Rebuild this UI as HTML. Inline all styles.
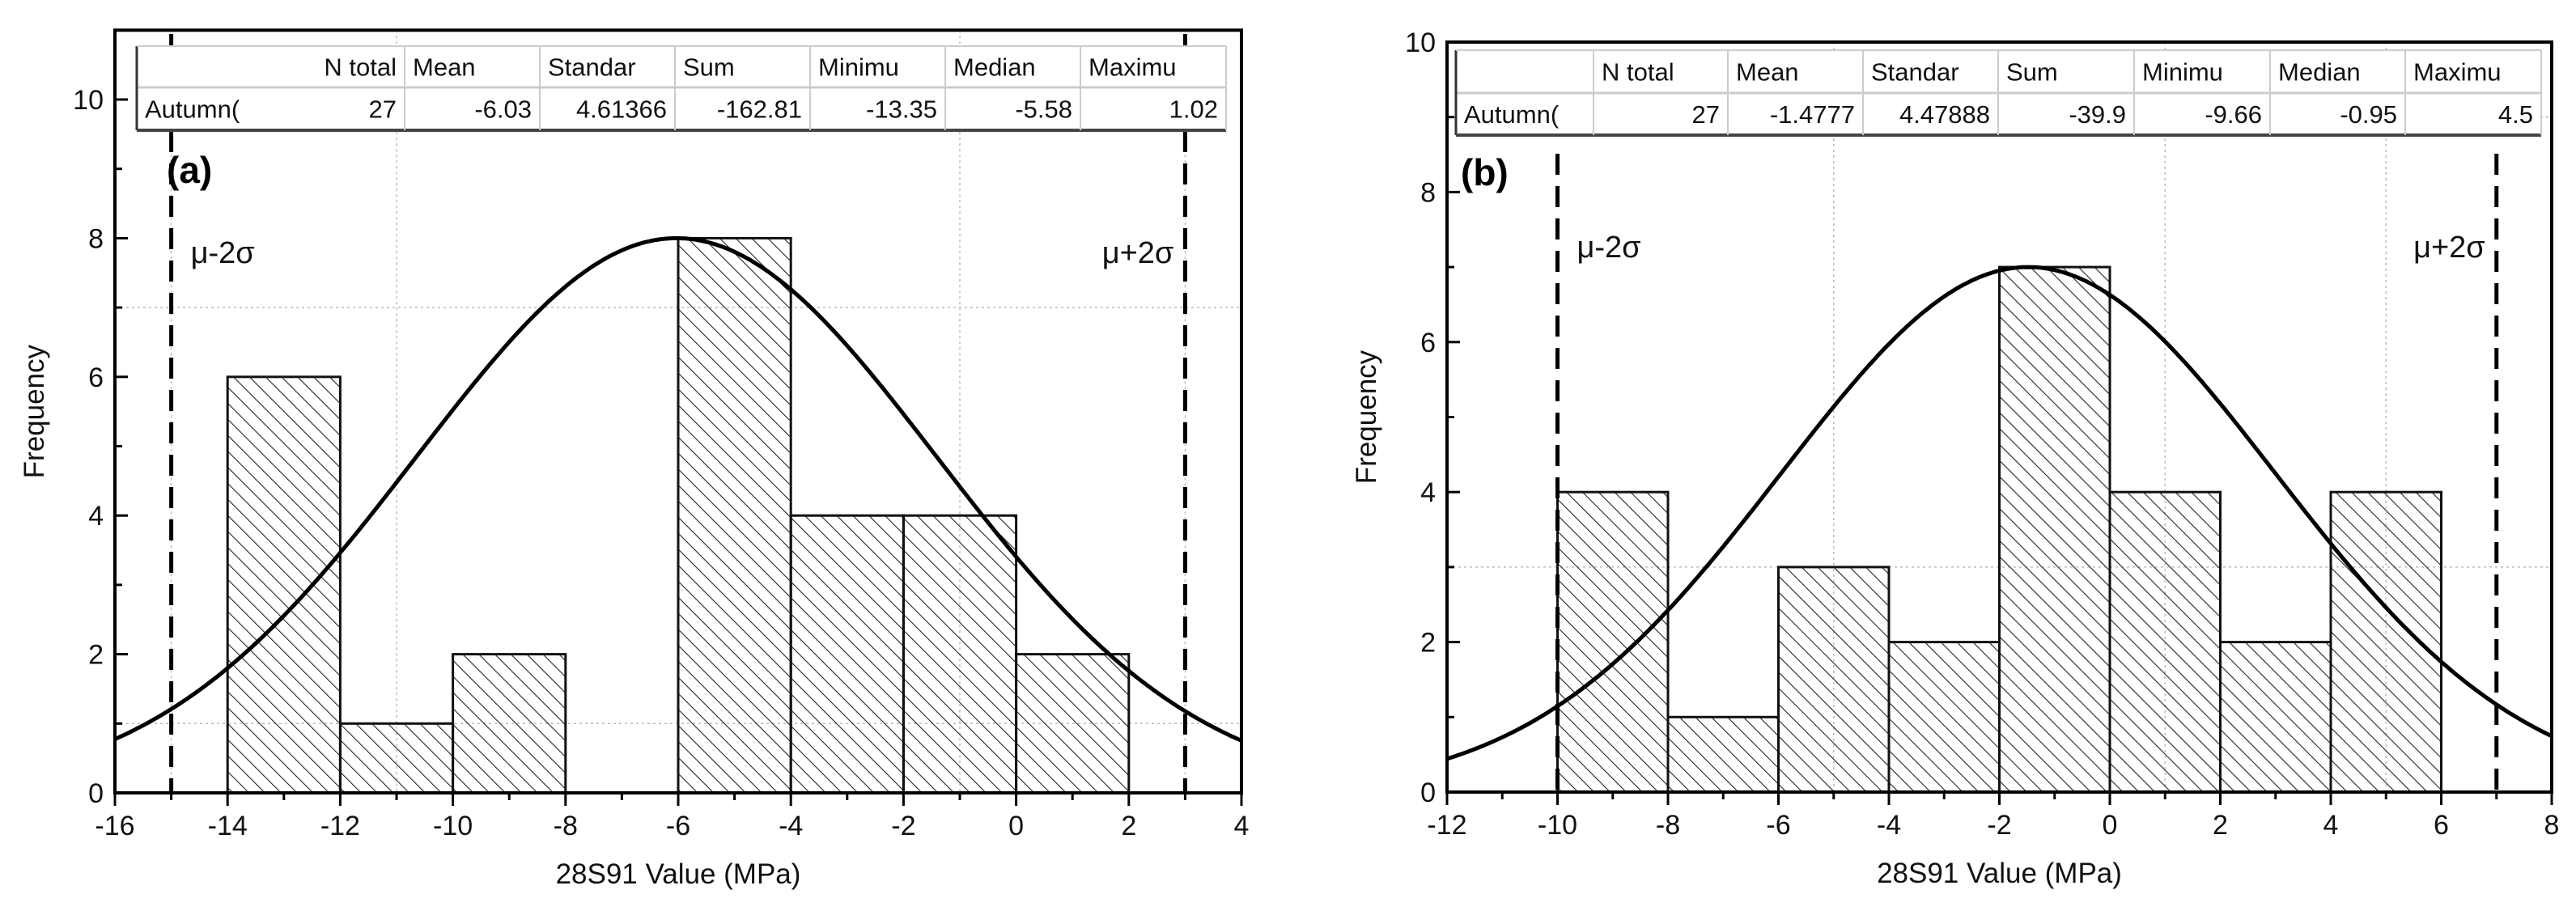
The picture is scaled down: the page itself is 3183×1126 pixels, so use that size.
<!DOCTYPE html>
<html><head><meta charset="utf-8">
<style>
html,body{margin:0;padding:0;background:#fff;}
svg{display:block;font-family:"Liberation Sans",Arial,sans-serif;}
</style></head>
<body>
<svg id="chart" width="3183" height="1126" viewBox="0 0 3183 1126" xmlns="http://www.w3.org/2000/svg">
<defs>
<pattern id="hatch" patternUnits="userSpaceOnUse" width="14" height="14" patternTransform="rotate(-45)">
<line x1="0" y1="0" x2="0" y2="14" stroke="#222" stroke-width="2.2"/>
</pattern>
</defs>
</svg>
<script>
// Panel (a) data
const binStartsA = [-14, -12, -10, -8, -6, -4, -2, 0];
const countsA = [6, 1, 2, 0, 8, 4, 4, 2];
const xTicksA = [-16, -14, -12, -10, -8, -6, -4, -2, 0, 2, 4];
const yTicksA = [0, 2, 4, 6, 8, 10];
const statsHeaderA = ["N total", "Mean", "Standar", "Sum", "Minimu", "Median", "Maximu"];
const statsValuesA = ["27", "-6.03", "4.61366", "-162.81", "-13.35", "-5.58", "1.02"];
const meanA = -6.03, sdA = 4.61366, peakA = 8;
const limitsA = [-15, 3];
// Panel (b) data
const binStartsB = [-10, -8, -6, -4, -2, 0, 2, 4];
const countsB = [4, 1, 3, 2, 7, 4, 2, 4];
const xTicksB = [-12, -10, -8, -6, -4, -2, 0, 2, 4, 6, 8];
const yTicksB = [0, 2, 4, 6, 8, 10];
const statsHeaderB = ["N total", "Mean", "Standar", "Sum", "Minimu", "Median", "Maximu"];
const statsValuesB = ["27", "-1.4777", "4.47888", "-39.9", "-9.66", "-0.95", "4.5"];
const meanB = -1.4777, sdB = 4.47888, peakB = 7;
const limitsB = [-10, 7];

const NS = "http://www.w3.org/2000/svg";
const svg = document.getElementById("chart");
function mk(tag, attrs, parent, text){
  const e = document.createElementNS(NS, tag);
  for (const k in attrs) e.setAttribute(k, attrs[k]);
  if (text !== undefined) e.textContent = text;
  (parent || svg).appendChild(e);
  return e;
}

function panel(cfg){
  const g = mk("g", {});
  
  
  const X = v => cfg.px0 + (v - cfg.xmin) / (cfg.xmax - cfg.xmin) * (cfg.px1 - cfg.px0);
  const Y = v => cfg.py0 - (v - 0) / (cfg.yTop) * (cfg.py0 - cfg.pyTop);
  const top = Y(cfg.ymax);
  cfg.gridX.forEach(v => {
    const l = mk("line", {x1:X(v), x2:X(v), y1:top, y2:cfg.py0, stroke:"#bbb", "stroke-width":1.5, "stroke-dasharray":"3,4"}, g);
    
    
  });
  cfg.gridY.forEach(v => {
    const l = mk("line", {x1:cfg.px0, x2:cfg.px1, y1:Y(v), y2:Y(v), stroke:"#bbb", "stroke-width":1.5, "stroke-dasharray":"3,4"}, g);
    
    
  });
  cfg.bins.forEach((b, i) => {
    if (cfg.counts[i] <= 0) return;
    const r = mk("rect", {x:X(b), y:Y(cfg.counts[i]), width:X(b+2)-X(b), height:cfg.py0-Y(cfg.counts[i]), fill:"url(#hatch)", stroke:"#111", "stroke-width":3}, g);
    
    
  });
  let d = "";
  for (let i = 0; i <= 300; i++){
    const v = cfg.xmin + (cfg.xmax - cfg.xmin) * i / 300;
    const f = cfg.peak * Math.exp(-Math.pow(v - cfg.mean, 2) / (2 * cfg.sd * cfg.sd));
    d += (i ? "L" : "M") + X(v).toFixed(1) + "," + Y(f).toFixed(1);
  }
  const c = mk("path", {d:d, fill:"none", stroke:"#000", "stroke-width":5}, g);
  
  
  cfg.limits.forEach((v, i) => {
    const l = mk("line", {x1:X(v), x2:X(v), y1:cfg.limTop, y2:cfg.py0, stroke:"#000", "stroke-width":5, "stroke-dasharray":"26,14"}, g);
    
    
  });
  const f = mk("rect", {x:cfg.px0, y:top, width:cfg.px1-cfg.px0, height:cfg.py0-top, fill:"none", stroke:"#000", "stroke-width":4}, g);
  
  
  for (let v = cfg.xmin; v <= cfg.xmax; v++){
    const major = cfg.xTicks.includes(v);
    mk("line", {x1:X(v), x2:X(v), y1:cfg.py0, y2:cfg.py0 + (major ? 16 : 9), stroke:"#000", "stroke-width":3}, g);
  }
  cfg.xTicks.forEach(v => {
    const t = mk("text", {x:X(v), y:cfg.py0 + 52, "font-size":34, "text-anchor":"middle", fill:"#111"}, g, String(v));
    
    
  });
  for (let v = 0; v <= cfg.ymax; v++){
    const major = cfg.yTicks.includes(v);
    mk("line", {x1:cfg.px0, x2:cfg.px0 + (major ? 16 : 9), y1:Y(v), y2:Y(v), stroke:"#000", "stroke-width":3}, g);
  }
  cfg.yTicks.forEach(v => {
    const t = mk("text", {x:cfg.px0 - 14, y:Y(v) + 12, "font-size":34, "text-anchor":"end", fill:"#111"}, g, String(v));
    
    
  });
  const xt = mk("text", {x:(cfg.px0+cfg.px1)/2, y:cfg.py0 + 112, "font-size":35, "text-anchor":"middle", fill:"#111"}, g, "28S91 Value (MPa)");
  
  
  const ytx = cfg.px0 - 88, yty = (cfg.py0 + top) / 2;
  const yt = mk("text", {x:ytx, y:yty, "font-size":35, "text-anchor":"middle", fill:"#111", transform:`rotate(-90 ${ytx} ${yty})`}, g, "Frequency");
  
  
  // table
  const tb = mk("g", {}, g);
  
  
  const T = cfg.table;
  const B = T.bounds; // column boundaries
  const xR = B[B.length-1];
  mk("rect", {x:T.x, y:T.y, width:xR - T.x, height:T.h2 - T.y, fill:"#fff", stroke:"none"}, tb);
  mk("line", {x1:T.x, x2:xR, y1:T.h1, y2:T.h1, stroke:"#ccc", "stroke-width":3}, tb);
  mk("line", {x1:T.x, x2:T.x, y1:T.y, y2:T.h2, stroke:"#333", "stroke-width":3}, tb);
  mk("line", {x1:T.x, x2:xR, y1:T.h2, y2:T.h2, stroke:"#444", "stroke-width":4}, tb);
  mk("line", {x1:T.x, x2:xR, y1:T.y, y2:T.y, stroke:"#ccc", "stroke-width":2}, tb);
  const off = T.labelCol ? 1 : 0;
  const seps = T.labelCol ? B.slice(1) : B.slice(1);
  seps.forEach(bx => mk("line", {x1:bx, x2:bx, y1:T.y, y2:T.h2, stroke:"#ccc", "stroke-width":2}, tb));
  const hy = (T.y + T.h1) / 2 + 11, vy = (T.h1 + T.h2) / 2 + 11;
  mk("text", {x:T.x + 10, y:vy, "font-size":31, fill:"#111"}, tb, "Autumn(");
  cfg.header.forEach((h, i) => {
    const l = B[i + off], r = B[i + off + 1];
    if (i === 0 && !T.labelCol) mk("text", {x:r - 10, y:hy, "font-size":31, "text-anchor":"end", fill:"#111"}, tb, h);
    else mk("text", {x:l + 10, y:hy, "font-size":31, fill:"#111"}, tb, h);
    mk("text", {x:r - 10, y:vy, "font-size":31, "text-anchor":"end", fill:"#111"}, tb, cfg.values[i]);
  });
  const pl = mk("text", {x:cfg.tagX, y:cfg.tagY, "font-size":46, "font-weight":"bold", fill:"#000"}, g, cfg.tag);
  
  
  const m1 = mk("text", {x:X(cfg.limits[0]) + 24, y:cfg.muY, "font-size":38, fill:"#111"}, g, "μ-2σ");
  
  
  const m2 = mk("text", {x:X(cfg.limits[1]) - 14, y:cfg.muY, "font-size":38, "text-anchor":"end", fill:"#111"}, g, "μ+2σ");
  
  
}

panel({name:"panel-a", xmin:-16, xmax:4, px0:142, px1:1534, py0:980, pyTop:123, yTop:10, ymax:11.0,
  bins:binStartsA, counts:countsA, xTicks:xTicksA, yTicks:yTicksA, mean:meanA, sd:sdA, peak:peakA,
  limits:limitsA, limTop:42, gridX:[-15,-11,-1,3], gridY:[1,7],
  table:{x:169, y:57, h1:108, h2:161, labelCol:false, bounds:[169,500,667,834,1001,1168,1335,1515]},
  header:statsHeaderA, values:statsValuesA,
  tag:"(a)", tagX:206, tagY:226, muY:325});
panel({name:"panel-b", xmin:-12, xmax:8, px0:1788, px1:3153, py0:979, pyTop:52, yTop:10, ymax:10,
  bins:binStartsB, counts:countsB, xTicks:xTicksB, yTicks:yTicksB, mean:meanB, sd:sdB, peak:peakB,
  limits:limitsB, limTop:190, gridX:[-5,1,5], gridY:[3,9],
  table:{x:1799, y:62, h1:115, h2:167, labelCol:true, bounds:[1799,1969,2135,2302,2469,2637,2805,2972,3140]},
  header:statsHeaderB, values:statsValuesB,
  tag:"(b)", tagX:1805, tagY:229, muY:318});
</script>
</body></html>
